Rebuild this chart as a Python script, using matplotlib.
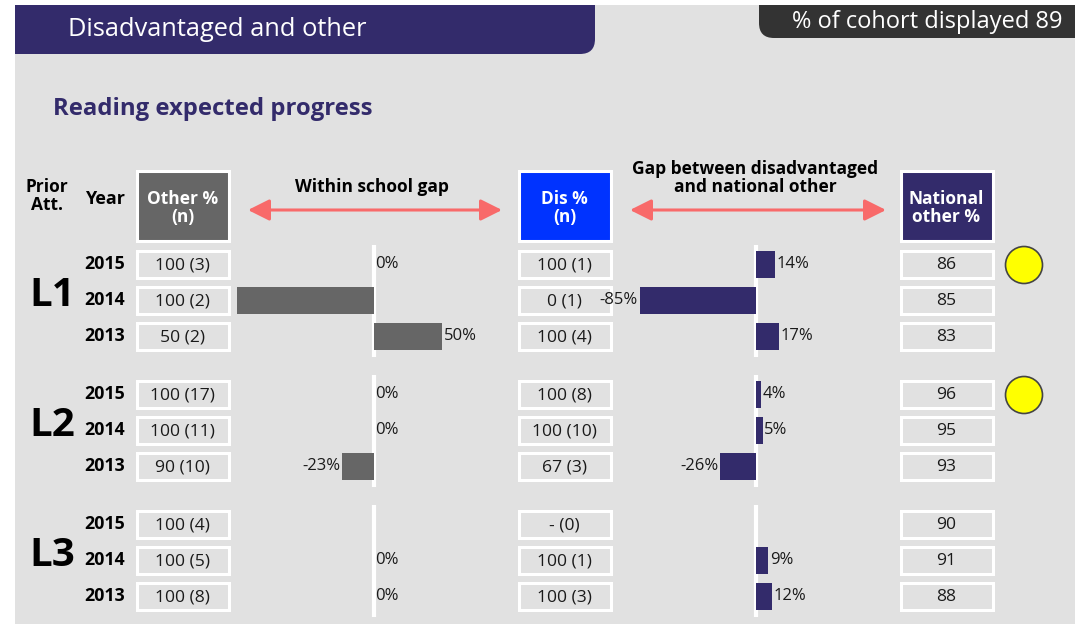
import matplotlib
matplotlib.use("Agg")
import matplotlib.pyplot as plt
from matplotlib.patches import Rectangle, FancyBboxPatch, Circle

plt.rcParams['font.family'] = ['Open Sans', 'DejaVu Sans']

# data
levels = ['L1', 'L2', 'L3']
years = ['2015', '2014', '2013']
other_pct = [[100, 100, 50], [100, 100, 90], [100, 100, 100]]
other_n = [[3, 2, 2], [17, 11, 10], [4, 5, 8]]
dis_pct = [[100, 0, 100], [100, 100, 67], [None, 100, 100]]
dis_n = [[1, 1, 4], [8, 10, 3], [0, 1, 3]]
national_other = [[86, 85, 83], [96, 95, 93], [90, 91, 88]]
within_gap = [[0, -100, 50], [0, 0, -23], [None, 0, 0]]
national_gap = [[14, -85, 17], [4, 5, -26], [None, 9, 12]]
flagged = [[True, False, False], [True, False, False], [False, False, False]]
cohort_pct = 89

PANEL = '#e1e1e1'
PURPLE = '#332b6b'
GREY = '#666666'
BLUE = '#0033ff'
ARROW = '#f86a6a'
TXT = '#1a1a1a'

W, H = 1083, 624
fig = plt.figure(figsize=(W / 100, H / 100), dpi=100)
ax = fig.add_axes([0, 0, 1, 1])
ax.set_xlim(0, W)
ax.set_ylim(H, 0)
ax.axis('off')

# page + panel
ax.add_patch(Rectangle((15, 0), 1060, H, facecolor=PANEL, edgecolor='none', zorder=0))
ax.add_patch(FancyBboxPatch((-5, -20), 600, 74, boxstyle='round,pad=0,rounding_size=15',
                            facecolor=PURPLE, edgecolor='none', zorder=1))
ax.add_patch(FancyBboxPatch((759, -20), 336, 58, boxstyle='round,pad=0,rounding_size=15',
                            facecolor='#333333', edgecolor='none', zorder=1))
ax.add_patch(Rectangle((0, 0), W, 5, facecolor='white', edgecolor='none', zorder=2))
ax.add_patch(Rectangle((0, 0), 15, H, facecolor='white', edgecolor='none', zorder=2))
ax.add_patch(Rectangle((1075, 0), 8, H, facecolor='white', edgecolor='none', zorder=2))

ax.text(68, 29, 'Disadvantaged and other', color='white', fontsize=18.3, va='center', zorder=3)
ax.text(1062, 22, f'% of cohort displayed {cohort_pct}', color='white', fontsize=17,
        ha='right', va='center', zorder=3)
ax.text(53, 109, 'Reading expected progress', color=PURPLE, fontsize=17.2,
        fontweight='bold', va='center', zorder=3)

# column headers
ax.text(47, 196, 'Prior\nAtt.', fontsize=12.5, fontweight='bold', ha='center', va='center',
        linespacing=1.0, color='black')
ax.text(105, 199, 'Year', fontsize=13, fontweight='bold', ha='center', va='center', color='black')

cols = [(135, GREY, 'Other %\n(n)'), (517, BLUE, 'Dis %\n(n)'), (899, PURPLE, 'National\nother %')]
for x0, fc, label in cols:
    ax.add_patch(Rectangle((x0 + 1.5, 170.5), 92, 70, facecolor=fc, edgecolor='white', lw=2.2, zorder=3))
    ax.text(x0 + 47.5, 208, label, color='white', fontsize=12.5, fontweight='bold',
            ha='center', va='center', linespacing=1.05, zorder=4)

ax.text(372, 187, 'Within school gap', fontsize=12.5, fontweight='bold', ha='center', va='center', color='black')
ax.text(755, 178, 'Gap between disadvantaged\nand national other', fontsize=12.5, fontweight='bold',
        ha='center', va='center', linespacing=1.0, color='black')
for xa, xb in [(248, 502), (630, 886)]:
    ax.annotate('', xy=(xb, 210), xytext=(xa, 210),
                arrowprops=dict(arrowstyle='<|-|>,head_length=1.3,head_width=0.65', mutation_scale=10,
                                lw=2.2, color=ARROW, shrinkA=0, shrinkB=0))

# bar axes (x in percent, y in pixel rows)
px_per_pct = 1.37
def bar_axes(zero_px):
    left = zero_px - 100 * px_per_pct
    a = fig.add_axes([left / W, 0, 200 * px_per_pct / W, 1])
    a.set_xlim(-100, 100)
    a.set_ylim(H, 0)
    a.axis('off')
    a.patch.set_alpha(0)
    return a

ax_within = bar_axes(373.8)
ax_nat = bar_axes(756)

def row_y(g, r):
    return 264 + 130 * g + 36 * r

for g, lev in enumerate(levels):
    ax.text(52, row_y(g, 1) - 5, lev, fontsize=29, fontweight='bold', ha='center', va='center', color='black')
    for bax in (ax_within, ax_nat):
        bax.plot([0, 0], [row_y(g, 0) - 19, row_y(g, 2) + 21], color='white', lw=3, zorder=1,
                 solid_capstyle='butt')
    for r, yr in enumerate(years):
        y = row_y(g, r)
        ax.text(105, y, yr, fontsize=12.8, fontweight='bold', ha='center', va='center', color='black')
        dp = '-' if dis_pct[g][r] is None else dis_pct[g][r]
        cells = [(135, f'{other_pct[g][r]} ({other_n[g][r]})'),
                 (517, f'{dp} ({dis_n[g][r]})'),
                 (899, f'{national_other[g][r]}')]
        for x0, s in cells:
            ax.add_patch(Rectangle((x0 + 1.5, y - 13.5), 92, 27, facecolor=PANEL, edgecolor='white',
                                   lw=2.2, zorder=3))
            ax.text(x0 + 47.5, y + 1, s, fontsize=12.6, ha='center', va='center', color=TXT, zorder=4)
        if flagged[g][r]:
            ax.add_patch(Circle((1024, y + 1), 18.5, facecolor='#ffff00', edgecolor='#444444', lw=1.2, zorder=3))

        for bax, vals, col in ((ax_within, within_gap, GREY), (ax_nat, national_gap, PURPLE)):
            v = vals[g][r]
            if v is None:
                continue
            bax.barh(y, v, height=27, color=col, zorder=2)
            if abs(v) >= 100:
                continue
            off = 1.5 / px_per_pct
            if v >= 0:
                bax.text(v + off, y, f'{v}%', fontsize=12, ha='left', va='center', color=TXT)
            else:
                bax.text(v - off, y, f'{v}%', fontsize=12, ha='right', va='center', color=TXT)

fig.savefig('out.png', dpi=100)
